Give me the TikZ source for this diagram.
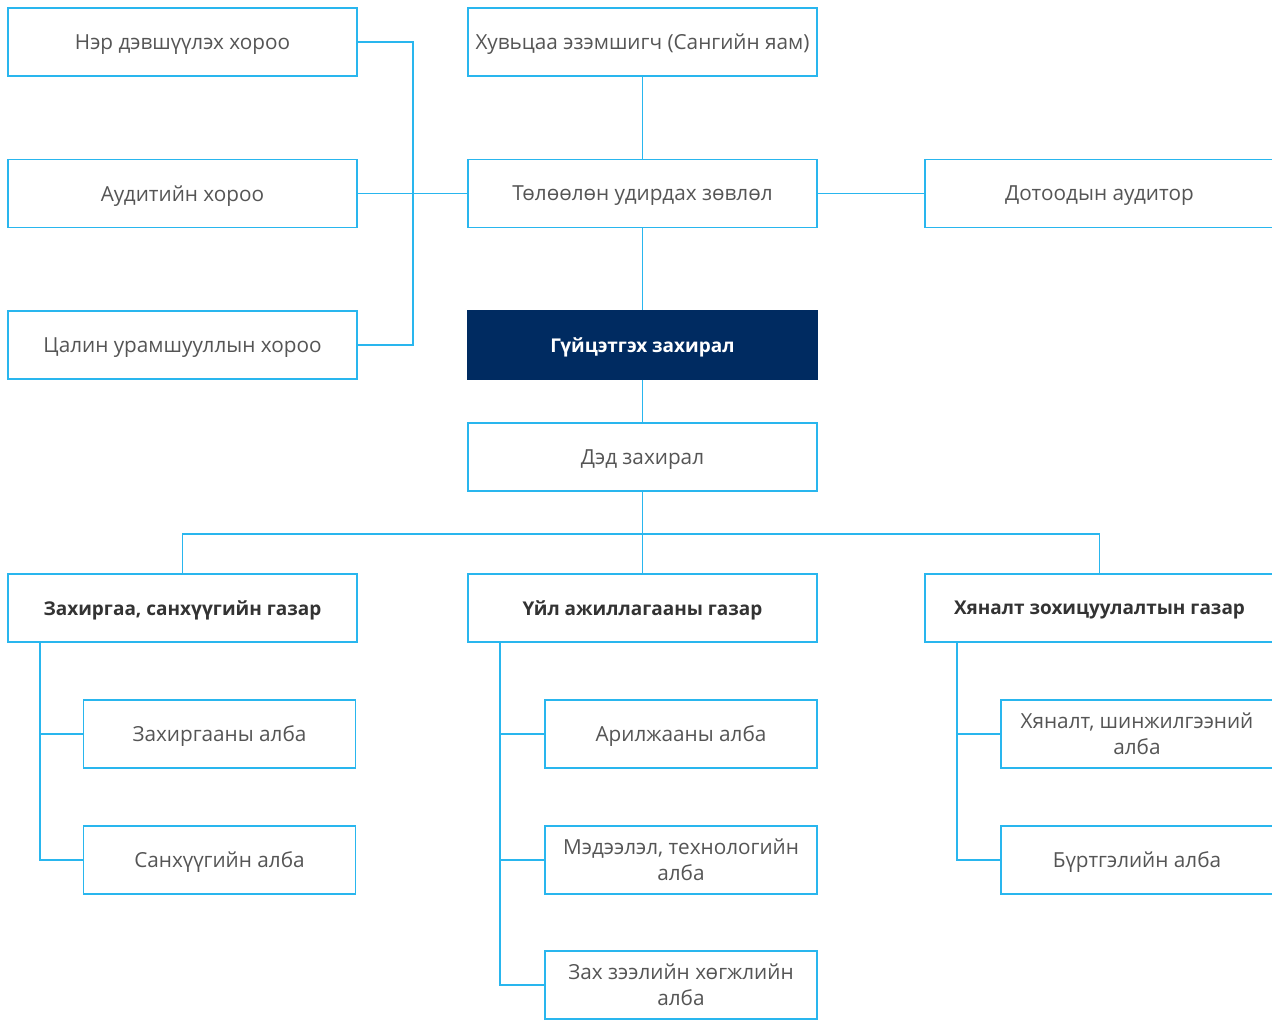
\documentclass[tikz,border=0pt]{standalone}
\usepackage{fontspec}
\setmainfont{Open Sans}
\usepackage{xcolor}
\usepackage{tikz}
\usetikzlibrary{positioning}
\definecolor{lineblue}{HTML}{29B6EE}
\definecolor{headnavy}{HTML}{002B61}
\definecolor{textgrey}{HTML}{555555}
\definecolor{textdark}{HTML}{333333}

\begin{document}
\begin{tikzpicture}[
    x=0.02cm, y=-0.02cm,
    unit/.style={draw=lineblue, line width=1.1pt, fill=white,
                 minimum width=6.98cm, minimum height=1.36cm,
                 inner sep=0pt, align=center, text=textgrey, text depth=0pt,
                 font=\fontsize{11.8}{14.7}\selectfont},
    dept/.style={unit, text=textdark, font=\fontsize{10.8}{13}\selectfont\bfseries},
    office/.style={unit, minimum width=5.44cm},
    chief/.style={unit, draw=headnavy, fill=headnavy, text=white,
                  font=\fontsize{10.8}{13}\selectfont\bfseries},
    link/.style={draw=lineblue, line width=0.85pt},
  ]
  \useasboundingbox (0,0) rectangle (1272,1019);

  % Board and committees
  \node[unit] (nominate) at (182.5,42)  {Нэр дэвшүүлэх хороо};
  \node[unit] (audit)    at (182.5,193.5) {Аудитийн хороо};
  \node[unit] (pay)      at (182.5,345) {Цалин урамшууллын хороо};
  \node[unit] (owner)    at (642.5,42)  {Хувьцаа эзэмшигч (Сангийн яам)};
  \node[unit] (board)    at (642.5,193.5) {Төлөөлөн удирдах зөвлөл};
  \node[unit] (internal) at (1099.5,193.5) {Дотоодын аудитор};
  \node[chief] (ceo)     at (642.5,345) {Гүйцэтгэх захирал};
  \node[unit] (deputy)   at (642.5,457) {Дэд захирал};

  % Departments
  \node[dept] (admin)   at (182.5,608)  {Захиргаа, санхүүгийн газар};
  \node[dept] (ops)     at (642.5,608)  {Үйл ажиллагааны газар};
  \node[dept] (control) at (1099.5,608) {Хяналт зохицуулалтын газар};

  % Offices
  \node[office] (adm1) at (219.5,734) {Захиргааны алба};
  \node[office] (adm2) at (219.5,860) {Санхүүгийн алба};
  \node[office] (ops1) at (681,734) {Арилжааны алба};
  \node[office] (ops2) at (681,860) {Мэдээлэл, технологийн\\алба};
  \node[office] (ops3) at (681,985) {Зах зээлийн хөгжлийн\\алба};
  \node[office] (ctl1) at (1137,734) {Хяналт, шинжилгээний\\алба};
  \node[office] (ctl2) at (1137,860) {Бүртгэлийн алба};

  \coordinate (split) at (642.5,534);

  \draw[link] (nominate.east) -- ++(55,0) |- (pay.east);
  \draw[link] (audit.east) -- (board.west);
  \draw[link] (owner) -- (board);
  \draw[link] (board) -- (ceo);
  \draw[link] (board) -- (internal);
  \draw[link] (ceo) -- (deputy);
  \draw[link] (deputy) -- (ops);
  \draw[link] (admin.north) |- (split) -| (control.north);

  \draw[link] ([xshift=0.66cm]admin.south west) |- (adm1.west)
              ([xshift=0.66cm]admin.south west) |- (adm2.west);
  \draw[link] ([xshift=0.66cm]ops.south west) |- (ops1.west)
              ([xshift=0.66cm]ops.south west) |- (ops2.west)
              ([xshift=0.66cm]ops.south west) |- (ops3.west);
  \draw[link] ([xshift=0.66cm]control.south west) |- (ctl1.west)
              ([xshift=0.66cm]control.south west) |- (ctl2.west);
\end{tikzpicture}
\end{document}
